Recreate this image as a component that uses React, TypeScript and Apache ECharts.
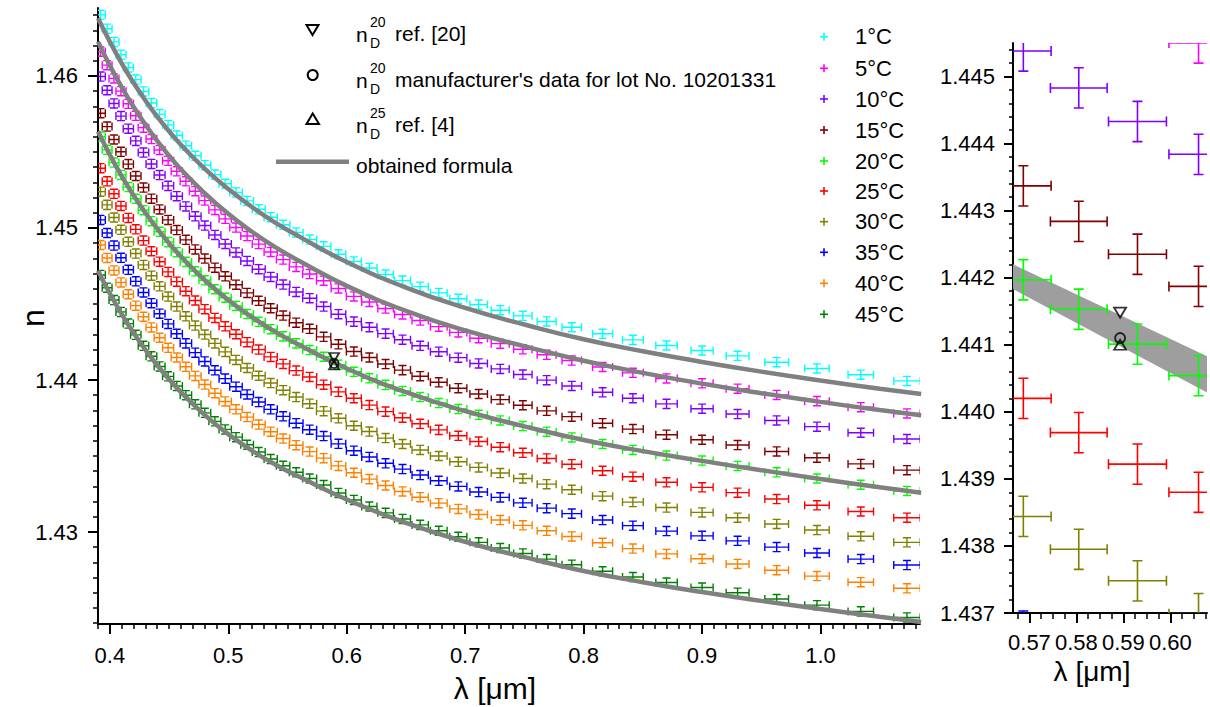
import React, { useEffect, useRef } from 'react';
import * as echarts from 'echarts';

// ---------- data ----------
// wavelengths of the measured points (µm), long -> short
const LAMBDA = [1.073, 1.034, 0.997, 0.963, 0.930, 0.900, 0.870, 0.8416, 0.816, 0.790, 0.7688, 0.7487, 0.7296, 0.7114, 0.6942, 0.6777, 0.6620, 0.6471, 0.6328, 0.6191, 0.6060, 0.5930, 0.5805, 0.5687, 0.5573, 0.5463, 0.5358, 0.5257, 0.5159, 0.5065, 0.4974, 0.4887, 0.4802, 0.4721, 0.4642, 0.4565, 0.4492, 0.4420, 0.4351, 0.4284, 0.4219, 0.4156, 0.4094, 0.4035, 0.3977, 0.3921];

const TEMPS = ['1°C', '5°C', '10°C', '15°C', '20°C', '25°C', '30°C', '35°C', '40°C', '45°C'];
const COLORS = ['#00FFFF', '#FF00FF', '#8000FF', '#800000', '#00FF00', '#FF0000', '#808000', '#0000FF', '#FF8000', '#008000'];

const N_1C = [1.43994, 1.44035, 1.44076, 1.44117, 1.44159, 1.44194, 1.44227, 1.44264, 1.44304, 1.44347, 1.44385, 1.44422, 1.44459, 1.44496, 1.44534, 1.44573, 1.44614, 1.44654, 1.44694, 1.44737, 1.44780, 1.44827, 1.44879, 1.44924, 1.44971, 1.45021, 1.45071, 1.45123, 1.45178, 1.45234, 1.45291, 1.45351, 1.45413, 1.45475, 1.45541, 1.45608, 1.45678, 1.45749, 1.45822, 1.45898, 1.45976, 1.46056, 1.46140, 1.46224, 1.46311, 1.46402];
const N_5C = [1.43780, 1.43821, 1.43861, 1.43902, 1.43943, 1.43978, 1.44010, 1.44047, 1.44086, 1.44128, 1.44166, 1.44202, 1.44239, 1.44275, 1.44313, 1.44351, 1.44391, 1.44431, 1.44470, 1.44513, 1.44550, 1.44602, 1.44653, 1.44697, 1.44744, 1.44792, 1.44842, 1.44894, 1.44947, 1.45003, 1.45060, 1.45119, 1.45180, 1.45242, 1.45307, 1.45373, 1.45442, 1.45513, 1.45585, 1.45660, 1.45738, 1.45817, 1.45900, 1.45984, 1.46071, 1.46160];
const N_10C = [1.43612, 1.43653, 1.43693, 1.43734, 1.43776, 1.43811, 1.43843, 1.43880, 1.43919, 1.43961, 1.43999, 1.44036, 1.44073, 1.44109, 1.44147, 1.44186, 1.44225, 1.44265, 1.44305, 1.44347, 1.44384, 1.44433, 1.44483, 1.44538, 1.44579, 1.44628, 1.44678, 1.44729, 1.44783, 1.44839, 1.44895, 1.44954, 1.45016, 1.45077, 1.45142, 1.45209, 1.45277, 1.45348, 1.45421, 1.45496, 1.45573, 1.45653, 1.45736, 1.45819, 1.45906, 1.45996];
const N_15C = [1.43407, 1.43448, 1.43489, 1.43530, 1.43572, 1.43607, 1.43640, 1.43677, 1.43716, 1.43759, 1.43797, 1.43834, 1.43871, 1.43908, 1.43946, 1.43985, 1.44025, 1.44065, 1.44105, 1.44148, 1.44187, 1.44235, 1.44284, 1.44337, 1.44377, 1.44424, 1.44472, 1.44521, 1.44573, 1.44627, 1.44682, 1.44739, 1.44799, 1.44859, 1.44922, 1.44986, 1.45053, 1.45122, 1.45193, 1.45266, 1.45342, 1.45420, 1.45501, 1.45582, 1.45667, 1.45755];
const N_20C = [1.43270, 1.43311, 1.43352, 1.43393, 1.43435, 1.43470, 1.43503, 1.43540, 1.43579, 1.43622, 1.43660, 1.43697, 1.43734, 1.43771, 1.43809, 1.43848, 1.43888, 1.43928, 1.43968, 1.44011, 1.44054, 1.44101, 1.44153, 1.44197, 1.44241, 1.44287, 1.44334, 1.44383, 1.44434, 1.44487, 1.44541, 1.44597, 1.44656, 1.44715, 1.44777, 1.44841, 1.44907, 1.44975, 1.45045, 1.45117, 1.45192, 1.45269, 1.45349, 1.45430, 1.45514, 1.45601];
const N_25C = [1.43094, 1.43135, 1.43176, 1.43217, 1.43259, 1.43294, 1.43327, 1.43364, 1.43403, 1.43446, 1.43484, 1.43521, 1.43558, 1.43595, 1.43633, 1.43672, 1.43712, 1.43752, 1.43792, 1.43835, 1.43880, 1.43922, 1.43969, 1.44020, 1.44062, 1.44106, 1.44152, 1.44200, 1.44249, 1.44301, 1.44353, 1.44408, 1.44466, 1.44523, 1.44584, 1.44647, 1.44711, 1.44778, 1.44847, 1.44917, 1.44991, 1.45066, 1.45145, 1.45225, 1.45307, 1.45393];
const N_30C = [1.42932, 1.42972, 1.43013, 1.43053, 1.43094, 1.43129, 1.43161, 1.43197, 1.43236, 1.43278, 1.43315, 1.43352, 1.43388, 1.43425, 1.43462, 1.43500, 1.43540, 1.43579, 1.43618, 1.43661, 1.43699, 1.43748, 1.43795, 1.43844, 1.43888, 1.43933, 1.43980, 1.44028, 1.44079, 1.44132, 1.44185, 1.44241, 1.44299, 1.44358, 1.44419, 1.44483, 1.44549, 1.44616, 1.44686, 1.44757, 1.44832, 1.44909, 1.44988, 1.45069, 1.45152, 1.45239];
const N_35C = [1.42783, 1.42822, 1.42862, 1.42901, 1.42942, 1.42975, 1.43006, 1.43042, 1.43079, 1.43121, 1.43157, 1.43192, 1.43228, 1.43263, 1.43300, 1.43337, 1.43375, 1.43414, 1.43452, 1.43494, 1.43535, 1.43580, 1.43631, 1.43673, 1.43716, 1.43761, 1.43807, 1.43855, 1.43905, 1.43956, 1.44009, 1.44064, 1.44122, 1.44180, 1.44241, 1.44304, 1.44369, 1.44436, 1.44505, 1.44576, 1.44649, 1.44725, 1.44804, 1.44884, 1.44967, 1.45053];
const N_40C = [1.42630, 1.42670, 1.42710, 1.42749, 1.42790, 1.42824, 1.42856, 1.42891, 1.42929, 1.42971, 1.43008, 1.43044, 1.43079, 1.43115, 1.43152, 1.43190, 1.43229, 1.43267, 1.43306, 1.43348, 1.43390, 1.43435, 1.43486, 1.43529, 1.43571, 1.43615, 1.43660, 1.43707, 1.43756, 1.43807, 1.43859, 1.43913, 1.43970, 1.44027, 1.44087, 1.44148, 1.44212, 1.44278, 1.44346, 1.44416, 1.44489, 1.44564, 1.44642, 1.44721, 1.44803, 1.44888];
const N_45C = [1.42438, 1.42478, 1.42519, 1.42559, 1.42601, 1.42635, 1.42668, 1.42704, 1.42742, 1.42785, 1.42822, 1.42859, 1.42895, 1.42932, 1.42969, 1.43008, 1.43047, 1.43086, 1.43126, 1.43168, 1.43211, 1.43257, 1.43309, 1.43352, 1.43393, 1.43436, 1.43480, 1.43526, 1.43574, 1.43624, 1.43675, 1.43728, 1.43784, 1.43840, 1.43900, 1.43961, 1.44024, 1.44089, 1.44156, 1.44225, 1.44297, 1.44371, 1.44448, 1.44526, 1.44607, 1.44691];
const SERIES_N = [N_1C, N_5C, N_10C, N_15C, N_20C, N_25C, N_30C, N_35C, N_40C, N_45C];

// error bars: relative wavelength uncertainty and absolute index uncertainty
const X_ERR_FRACTION = 0.0104;
const N_ERR = 0.0003;

// "obtained formula" curves (1, 5, 20, 45 °C)
const FORMULA_LAMBDA = [0.39, 0.40, 0.41, 0.42, 0.43, 0.44, 0.45, 0.46, 0.48, 0.50, 0.52, 0.54, 0.56, 0.60, 0.65, 0.70, 0.75, 0.80, 0.85, 0.90, 0.95, 1.00, 1.05, 1.085];
const FORMULA_1C = [1.46380, 1.46225, 1.46083, 1.45955, 1.45839, 1.45732, 1.45636, 1.45547, 1.45391, 1.45257, 1.45138, 1.45034, 1.44943, 1.44776, 1.44608, 1.44474, 1.44365, 1.44268, 1.44189, 1.44119, 1.44055, 1.43997, 1.43943, 1.43908];
const FORMULA_5C = [1.46226, 1.46069, 1.45926, 1.45797, 1.45680, 1.45573, 1.45476, 1.45386, 1.45229, 1.45093, 1.44975, 1.44872, 1.44783, 1.44619, 1.44455, 1.44326, 1.44222, 1.44127, 1.44047, 1.43976, 1.43913, 1.43856, 1.43802, 1.43768];
const FORMULA_20C = [1.45634, 1.45481, 1.45341, 1.45215, 1.45100, 1.44995, 1.44900, 1.44812, 1.44658, 1.44526, 1.44413, 1.44315, 1.44231, 1.44076, 1.43920, 1.43796, 1.43695, 1.43605, 1.43532, 1.43468, 1.43407, 1.43349, 1.43294, 1.43258];
const FORMULA_45C = [1.44719, 1.44569, 1.44433, 1.44310, 1.44199, 1.44097, 1.44005, 1.43920, 1.43771, 1.43644, 1.43536, 1.43443, 1.43363, 1.43214, 1.43060, 1.42936, 1.42835, 1.42744, 1.42670, 1.42605, 1.42547, 1.42493, 1.42442, 1.42408];
const FORMULAS = [FORMULA_1C, FORMULA_5C, FORMULA_20C, FORMULA_45C];

// reference values at the sodium D line
const LAMBDA_D = 0.5893;
const ND20_REF20 = 1.44148;
const ND20_MANUFACTURER = 1.4411;
const ND25_REF4 = 1.441;

// uncertainty band of the formula at 20 °C (inset)
const BAND_LAMBDA = [0.5665, 0.6078];
const BAND_UPPER = [1.4422, 1.44083];
const BAND_LOWER = [1.44183, 1.44029];

// tick labels
const MAIN_X_TICKS = [0.4, 0.5, 0.6, 0.7, 0.8, 0.9, 1.0];
const MAIN_Y_TICKS = [1.43, 1.44, 1.45, 1.46];
const INSET_X_TICKS = [0.57, 0.58, 0.59, 0.60];
const INSET_Y_TICKS = [1.437, 1.438, 1.439, 1.44, 1.441, 1.442, 1.443, 1.444, 1.445];

// ---------- helpers ----------
const FONT = '"Liberation Sans", Arial, Helvetica, sans-serif';
const ticksFrom = (start: number, step: number, count: number) =>
  Array.from({ length: count }, (_, i) => +(start + i * step).toFixed(5));
const MAIN_X_MINOR = ticksFrom(0.39, 0.01, 70);
const MAIN_Y_MINOR = ticksFrom(1.424, 0.001, 41);
const INSET_X_MINOR = ticksFrom(0.5675, 0.0025, 17);
const INSET_Y_MINOR = ticksFrom(1.437, 0.0002, 43);

const errorBar = (color: string, cap: number, lw: number) => (params: any, api: any) => {
  const x = api.value(0);
  const y = api.value(1);
  const dx = x * X_ERR_FRACTION;
  const c = api.coord([x, y]);
  const l = api.coord([x - dx, y]);
  const r = api.coord([x + dx, y]);
  const t = api.coord([x, y + N_ERR]);
  const b = api.coord([x, y - N_ERR]);
  const d =
    `M${l[0]} ${c[1]}L${r[0]} ${c[1]}` +
    `M${l[0]} ${c[1] - cap}L${l[0]} ${c[1] + cap}` +
    `M${r[0]} ${c[1] - cap}L${r[0]} ${c[1] + cap}` +
    `M${c[0]} ${t[1]}L${c[0]} ${b[1]}` +
    `M${c[0] - cap} ${t[1]}L${c[0] + cap} ${t[1]}` +
    `M${c[0] - cap} ${b[1]}L${c[0] + cap} ${b[1]}`;
  return { type: 'path', shape: { pathData: d }, style: { stroke: color, fill: 'none', lineWidth: lw } };
};

const txt = (text: string, x: number, y: number, size: number, align = 'left', extra: any = {}) => ({
  type: 'text',
  x,
  y,
  silent: true,
  ...extra,
  style: {
    text,
    x: 0,
    y: 0,
    fill: '#000',
    font: `${size}px ${FONT}`,
    fontSize: size,
    fontFamily: FONT,
    align,
    textAlign: align,
    verticalAlign: 'middle',
    textVerticalAlign: 'middle',
  },
});

const makeAxis = (pos: string, grid: number, min: number, max: number, major: number[], minor: number[], fmt: (v: number) => string, majorLen: number, minorLen: number) => [
  {
    type: 'value', gridIndex: grid, position: pos, min, max,
    axisLine: { show: true, onZero: false, lineStyle: { color: '#000', width: 2 } },
    axisTick: { show: true, customValues: major, length: majorLen, lineStyle: { color: '#000', width: 2 } },
    axisLabel: { show: true, customValues: major, formatter: fmt, fontSize: 22, fontFamily: FONT, color: '#000', margin: grid === 0 ? 20 : 18 },
    splitLine: { show: false },
  },
  {
    type: 'value', gridIndex: grid, position: pos, min, max,
    axisLine: { show: false, onZero: false },
    axisTick: { show: true, customValues: minor, length: minorLen, lineStyle: { color: '#000', width: 1.5 } },
    axisLabel: { show: false },
    splitLine: { show: false },
  },
];

const refMarkers = (xi: number, yi: number, triSize: number[], circSize: number) => [
  {
    type: 'scatter', xAxisIndex: xi, yAxisIndex: yi, z: 6, silent: true,
    symbol: 'triangle', symbolRotate: 180, symbolSize: triSize,
    itemStyle: { color: 'rgba(0,0,0,0)', borderColor: '#000', borderWidth: 1.8 },
    data: [[LAMBDA_D, ND20_REF20]],
  },
  {
    type: 'scatter', xAxisIndex: xi, yAxisIndex: yi, z: 6, silent: true,
    symbol: 'circle', symbolSize: circSize,
    itemStyle: { color: 'rgba(0,0,0,0)', borderColor: '#000', borderWidth: 1.8 },
    data: [[LAMBDA_D, ND20_MANUFACTURER]],
  },
  {
    type: 'scatter', xAxisIndex: xi, yAxisIndex: yi, z: 6, silent: true,
    symbol: 'triangle', symbolSize: triSize,
    itemStyle: { color: 'rgba(0,0,0,0)', borderColor: '#000', borderWidth: 1.8 },
    data: [[LAMBDA_D, ND25_REF4]],
  },
];

export default function App() {
  const ref = useRef<HTMLDivElement>(null);

  useEffect(() => {
    if (!ref.current) return;
    const chart = echarts.init(ref.current, null, { renderer: 'svg' });

    const series: any[] = [];

    // main plot: measured points with error bars
    SERIES_N.forEach((arr, i) => {
      series.push({
        type: 'custom', name: TEMPS[i], xAxisIndex: 0, yAxisIndex: 0, clip: true, z: 2, silent: true,
        renderItem: errorBar(COLORS[i], 4, 1.4),
        data: LAMBDA.map((l, k) => [l, arr[k]]),
      });
    });

    // main plot: formula curves
    FORMULAS.forEach((arr) => {
      series.push({
        type: 'line', xAxisIndex: 0, yAxisIndex: 0, z: 4, silent: true, smooth: true,
        showSymbol: false, symbol: 'none',
        lineStyle: { color: '#808080', width: 4.5 },
        data: FORMULA_LAMBDA.map((l, k) => [l, arr[k]]),
      });
    });

    series.push(...refMarkers(0, 0, [10, 9], 9));

    // inset: band
    series.push({
      type: 'custom', xAxisIndex: 2, yAxisIndex: 2, clip: true, z: 1, silent: true,
      data: [[BAND_LAMBDA[0], BAND_UPPER[0]]],
      renderItem: (params: any, api: any) => {
        const pts = [
          ...BAND_LAMBDA.map((l, k) => api.coord([l, BAND_UPPER[k]])),
          ...BAND_LAMBDA.map((l, k) => api.coord([l, BAND_LOWER[k]])).reverse(),
        ];
        return { type: 'polygon', shape: { points: pts }, style: { fill: '#9E9E9E', stroke: 'none' } };
      },
    });

    // inset: error bars
    SERIES_N.forEach((arr, i) => {
      series.push({
        type: 'custom', xAxisIndex: 2, yAxisIndex: 2, clip: true, z: 2, silent: true,
        renderItem: errorBar(COLORS[i], 5, 1.6),
        data: LAMBDA.map((l, k) => [l, arr[k]]).filter((p) => p[0] > 0.55 && p[0] < 0.625),
      });
    });

    series.push(...refMarkers(2, 2, [12, 10], 10));

    // legends (drawn as graphics)
    const graphics: any[] = [];
    const rows = [
      { c: 33, sup: '20', label: 'ref. [20]' },
      { c: 79, sup: '20', label: "manufacturer's data for lot No. 10201331" },
      { c: 124.5, sup: '25', label: 'ref. [4]' },
    ];
    rows.forEach((r) => {
      graphics.push(txt('n', 356, r.c + 1, 21));
      graphics.push(txt(r.sup, 370, r.c - 11.3, 14));
      graphics.push(txt('D', 370, r.c + 9.8, 14));
      graphics.push(txt(r.label, 395, r.c, 21));
    });
    const ls = { stroke: '#000', fill: 'none', lineWidth: 2 };
    graphics.push({ type: 'polygon', silent: true, shape: { points: [[306.5, 25], [318.5, 25], [312.5, 35]] }, style: ls });
    graphics.push({ type: 'circle', silent: true, shape: { cx: 312.7, cy: 75, r: 5 }, style: ls });
    graphics.push({ type: 'polygon', silent: true, shape: { points: [[306.5, 124], [319, 124], [312.7, 113.5]] }, style: ls });
    graphics.push({ type: 'line', silent: true, shape: { x1: 276, y1: 161.7, x2: 349, y2: 161.7 }, style: { stroke: '#808080', lineWidth: 4.5 } });
    graphics.push(txt('obtained formula', 356, 165, 21));

    const tempRows = [36.7, 68.3, 99, 130, 161, 191, 221.7, 252.3, 283.3, 314.3];
    TEMPS.forEach((t, i) => {
      const y = tempRows[i];
      const st = { stroke: COLORS[i], lineWidth: 1.6 };
      graphics.push({ type: 'line', silent: true, shape: { x1: 820, y1: y, x2: 828, y2: y }, style: st });
      graphics.push({ type: 'line', silent: true, shape: { x1: 824, y1: y - 4, x2: 824, y2: y + 4 }, style: st });
      graphics.push(txt(t, 855, y, 22));
    });

    // axis titles
    graphics.push(txt('n', 33, 318, 32, 'center', { rotation: Math.PI / 2 }));
    graphics.push(txt('λ [μm]', 495, 688, 30, 'center'));
    graphics.push(txt('λ [μm]', 1092, 671, 28, 'center'));

    const option: any = {
      animation: false,
      backgroundColor: '#fff',
      grid: [
        { left: 98, top: 8, width: 822, height: 616, containLabel: false, outerBoundsMode: 'none' },
        { left: 1013, top: 43, width: 194, height: 570, containLabel: false, outerBoundsMode: 'none' },
      ],
      xAxis: [
        ...makeAxis('bottom', 0, 0.39, 1.084, MAIN_X_TICKS, MAIN_X_MINOR, (v: number) => v.toFixed(1), 10, 5),
        ...makeAxis('bottom', 1, 0.5665, 0.6078, INSET_X_TICKS, INSET_X_MINOR, (v: number) => v.toFixed(2), 10, 6),
      ],
      yAxis: [
        ...makeAxis('left', 0, 1.42395, 1.46447, MAIN_Y_TICKS, MAIN_Y_MINOR, (v: number) => v.toFixed(2), 10, 5),
        ...makeAxis('left', 1, 1.437, 1.4455, INSET_Y_TICKS, INSET_Y_MINOR, (v: number) => v.toFixed(3), 9, 4),
      ],
      series,
      graphic: { elements: graphics },
    };

    chart.setOption(option);
    return () => chart.dispose();
  }, []);

  return <div ref={ref} style={{ position: 'absolute', left: 0, top: 0, width: 1210, height: 707, background: '#fff' }} />;
}
